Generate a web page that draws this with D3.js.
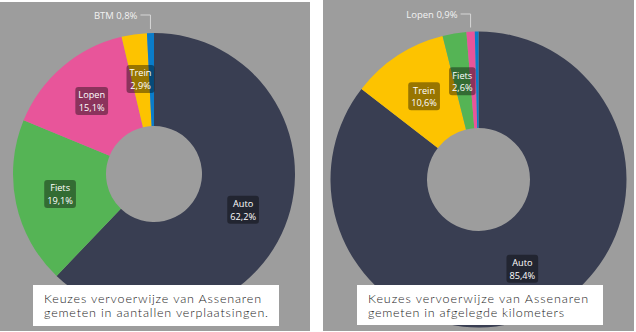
<!DOCTYPE html>
<html>
<head>
<meta charset="utf-8">
<script src="https://cdn.jsdelivr.net/npm/d3@7/dist/d3.min.js"></script>
<style>
  html, body { margin: 0; padding: 0; background: #ffffff; }
  svg { display: block; }
</style>
</head>
<body>
<svg id="chart" width="636" height="332"></svg>
<script>
// Modal split of trips made by residents of Assen
const tripCategories = ["Auto", "Fiets", "Lopen", "Trein", "BTM"];
const tripShares     = [62.2, 19.1, 15.1, 2.9, 0.8];
const tripLabelMode  = ["in", "in", "in", "in", "out"];
const tripCaption    = ["Keuzes vervoerwijze van Assenaren", "gemeten in aantallen verplaatsingen."];

// Modal split of distance travelled by residents of Assen
const kmCategories = ["Auto", "Trein", "Fiets", "Lopen", "BTM"];
const kmShares     = [85.4, 10.6, 2.6, 0.9, 0.4];
const kmLabelMode  = ["in", "in", "in", "out", "none"];
const kmCaption    = ["Keuzes vervoerwijze van Assenaren", "gemeten in afgelegde kilometers"];

const modeColors = {
  "Auto":  "#393e52",
  "Fiets": "#55b455",
  "Lopen": "#e8559a",
  "Trein": "#fdc300",
  "BTM":   "#0a7cc9"
};

const fmt = v => d3.format(".1f")(v).replace(".", ",") + "%";
const labelFont = "'Segoe UI', 'Open Sans', sans-serif";
const svg = d3.select("#chart");

function drawPanel(cfg) {
  const g = svg.append("g");

  g.append("rect")
    .attr("x", cfg.x).attr("y", cfg.y)
    .attr("width", cfg.w).attr("height", cfg.h)
    .attr("fill", "#9d9d9d");

  const data = cfg.categories.map((c, i) => ({ cat: c, value: cfg.values[i], mode: cfg.modes[i] }));
  const pie = d3.pie().sort(null).value(d => d.value);
  const arcs = pie(data);
  const arc = d3.arc().innerRadius(cfg.rIn).outerRadius(cfg.rOut);
  const labelArc = d3.arc().innerRadius(cfg.rLabel).outerRadius(cfg.rLabel);

  const chart = g.append("g").attr("transform", `translate(${cfg.cx},${cfg.cy})`);

  chart.selectAll("path.slice")
    .data(arcs)
    .join("path")
    .attr("class", "slice")
    .attr("d", arc)
    .attr("fill", d => modeColors[d.data.cat]);

  // labels inside the ring: dark translucent badge with name and share
  const inside = chart.selectAll("g.inlabel")
    .data(arcs.filter(d => d.data.mode === "in"))
    .join("g")
    .attr("class", "inlabel")
    .attr("transform", d => `translate(${labelArc.centroid(d)})`);

  inside.each(function(d) {
    const lg = d3.select(this);
    const box = lg.append("rect")
      .attr("rx", 3).attr("ry", 3)
      .attr("fill", "rgba(0,0,0,0.4)");
    const lines = [d.data.cat, fmt(d.data.value)];
    const texts = lines.map((s, i) => lg.append("text")
      .attr("x", 0)
      .attr("y", i === 0 ? -2.6 : 10)
      .attr("text-anchor", "middle")
      .attr("font-family", labelFont)
      .attr("font-size", 9.2)
      .attr("fill", "#ffffff")
      .text(s));
    const w = d3.max(texts, t => t.node().getComputedTextLength());
    box.attr("x", -w / 2 - 3).attr("y", -14)
      .attr("width", w + 6).attr("height", 28);
  });

  // small slices: label above the chart with an elbow leader line
  arcs.filter(d => d.data.mode === "out").forEach(d => {
    const mid = (d.startAngle + d.endAngle) / 2;
    const px = cfg.rOut * Math.sin(mid);
    const yTop = -cfg.rOut - 4;
    const yLine = cfg.y + cfg.leaderY - cfg.cy;
    chart.append("path")
      .attr("d", `M${px},${yTop} L${px},${yLine} L${px - 10},${yLine}`)
      .attr("fill", "none")
      .attr("stroke", "#d6d6d6")
      .attr("stroke-width", 1);
    chart.append("text")
      .attr("x", px - 13)
      .attr("y", yLine + 3.5)
      .attr("text-anchor", "end")
      .attr("font-family", labelFont)
      .attr("font-size", 9.5)
      .attr("fill", "#f2f2f2")
      .text(`${d.data.cat} ${fmt(d.data.value)}`);
  });

  // caption card
  g.append("rect")
    .attr("x", cfg.capX).attr("y", cfg.capY)
    .attr("width", cfg.capW).attr("height", cfg.capH)
    .attr("fill", "#ffffff");
  cfg.caption.forEach((line, i) => {
    g.append("text")
      .attr("x", cfg.capX + 11)
      .attr("y", cfg.capY + 18 + i * 14)
      .attr("font-family", "Lato, 'DejaVu Sans', sans-serif")
      .attr("font-weight", 300)
      .attr("font-size", 12.5)
      .attr("fill", "#1a1a1a")
      .attr("textLength", cfg.capLens[i])
      .attr("lengthAdjust", "spacing")
      .text(line);
  });
}

drawPanel({
  x: 0, y: 2, w: 310, h: 329,
  cx: 154, cy: 174, rOut: 141, rIn: 48, rLabel: 96,
  leaderY: 13,
  categories: tripCategories, values: tripShares, modes: tripLabelMode,
  caption: tripCaption, capLens: [217, 224],
  capX: 33, capY: 285, capW: 246, capH: 41
});

drawPanel({
  x: 323, y: 0, w: 311, h: 331,
  cx: 478.5, cy: 179.5, rOut: 148, rIn: 51.5, rLabel: 99.5,
  leaderY: 14,
  categories: kmCategories, values: kmShares, modes: kmLabelMode,
  caption: kmCaption, capLens: [220, 196],
  capX: 357, capY: 285, capW: 246, capH: 40
});
</script>
</body>
</html>
